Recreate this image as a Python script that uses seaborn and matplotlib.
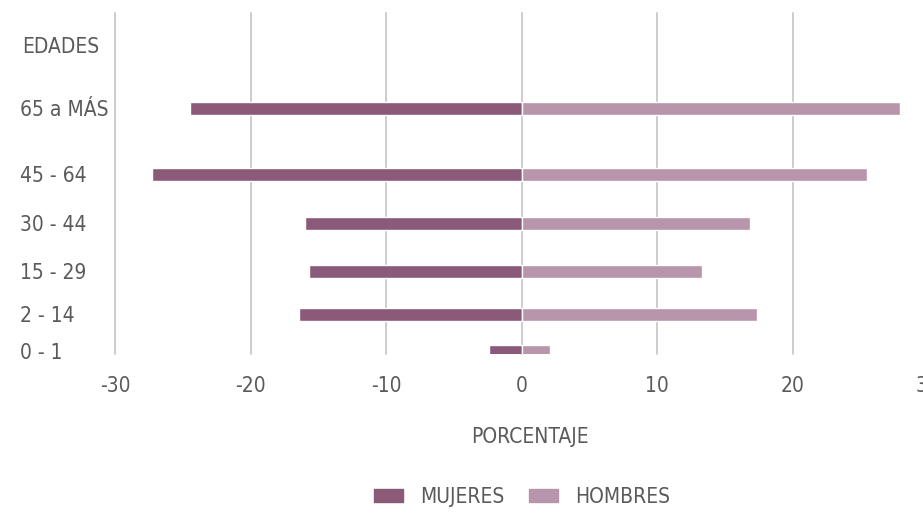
import matplotlib
matplotlib.use("Agg")
import matplotlib.pyplot as plt
import seaborn as sns
import pandas as pd
from matplotlib.patches import Patch

# ── Data ──────────────────────────────────────────────────────
edades  = ["65 a MÁS", "45 - 64", "30 - 44", "15 - 29", "2 - 14", "0 - 1"]
mujeres = [-24.5, -27.3, -16.0, -15.7, -16.4, -2.4]
hombres = [27.9, 25.5, 16.9, 13.3, 17.4, 2.1]
xticks  = [-30, -20, -10, 0, 10, 20, 30]

# uneven row layout (top → bottom)
row_y = [108, 174, 223, 271, 314, 351]

C_MUJ = "#8a5a78"
C_HOM = "#b995ab"
TXT   = "#5a5a5a"

df = pd.DataFrame({
    "Edad": edades * 2,
    "y": row_y * 2,
    "Porcentaje": mujeres + hombres,
    "Sexo": ["MUJERES"] * len(edades) + ["HOMBRES"] * len(edades),
})

sns.set_theme(style="white")
plt.rcParams["font.family"] = ["DejaVu Sans"]
plt.rcParams["font.stretch"] = "condensed"

fig = plt.figure(figsize=(9.23, 5.14), dpi=100)
W, H = 923, 514
x0, x1, y0, y1 = 115, 928, 13, 354
ax = fig.add_axes([x0 / W, 1 - y1 / H, (x1 - x0) / W, (y1 - y0) / H])

sns.barplot(data=df, x="Porcentaje", y="y", hue="Sexo", orient="h",
            native_scale=True, dodge=False, width=13 / 37, saturation=1,
            palette={"MUJERES": C_MUJ, "HOMBRES": C_HOM},
            legend=False, ax=ax, zorder=3)

ax.set_xlim(-30, 30)
ax.set_ylim(y1, y0)
ax.set_xticks(xticks)
ax.set_xticklabels([str(t) for t in xticks], fontsize=15, color=TXT)
ax.tick_params(axis="x", length=0, pad=16)
ax.xaxis.grid(True, color="#cccccc", linewidth=1.4, zorder=0)
ax.yaxis.grid(False)
for gl in ax.get_xgridlines():
    gl.set_clip_on(False)
for s in ax.spines.values():
    s.set_visible(False)

ax.set_yticks(row_y)
ax.set_yticklabels(edades, fontsize=15, color=TXT, ha="left")
ax.tick_params(axis="y", length=0, pad=(x0 - 20) * 0.72)
ax.set_ylabel("")
ax.set_xlabel("PORCENTAJE", fontsize=15, color=TXT)
ax.xaxis.set_label_coords((530 - x0) / (x1 - x0), -(437 - y1) / (y1 - y0))
ax.xaxis.label.set_va("center")

fig.text(61 / W, 1 - 47 / H, "EDADES", fontsize=15, color=TXT,
         ha="center", va="center")

handles = [Patch(color=C_MUJ, label="MUJERES"), Patch(color=C_HOM, label="HOMBRES")]
fig.legend(handles=handles, loc="center", bbox_to_anchor=(522 / W, 1 - 497 / H),
           ncol=2, frameon=False, fontsize=15, handlelength=1.4, handleheight=0.6,
           handletextpad=0.8, columnspacing=1.2, labelcolor=TXT)

fig.savefig("out.png", dpi=100)
